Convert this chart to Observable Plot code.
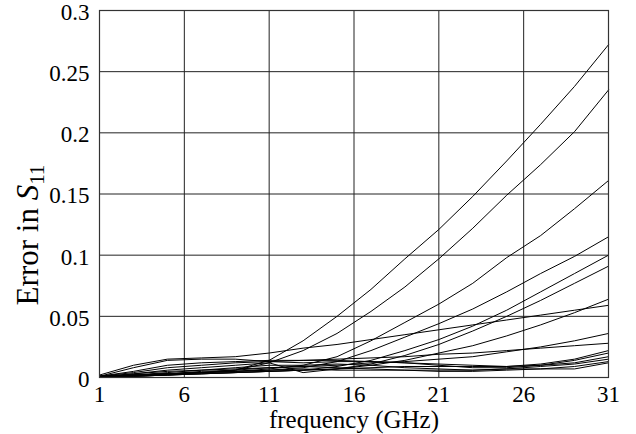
<!DOCTYPE html>
<html>
<head>
<meta charset="utf-8">
<script src="https://cdn.jsdelivr.net/npm/d3@7"></script>
<script src="https://cdn.jsdelivr.net/npm/@observablehq/plot@0.6"></script>
<style>
  html, body { margin: 0; padding: 0; background: #fff; }
  #chart { width: 636px; height: 434px; }
  #chart svg text { font-family: "Liberation Serif", "Times New Roman", serif; }
</style>
</head>
<body>
<div id="chart"></div>
<script>
// Frequencies (GHz) at which each error curve is sampled
const freq = [1, 3, 5, 7, 9, 11, 13, 15, 17, 19, 21, 23, 25, 27, 29, 31];

// Error in S11 for each curve
const curveA = [0.001, 0.002, 0.003, 0.004, 0.006, 0.014, 0.030, 0.050, 0.072, 0.097, 0.121, 0.148, 0.177, 0.207, 0.238, 0.272];
const curveB = [0.001, 0.002, 0.003, 0.004, 0.006, 0.012, 0.022, 0.036, 0.054, 0.074, 0.097, 0.122, 0.149, 0.174, 0.201, 0.235];
const curveC = [0.001, 0.002, 0.003, 0.004, 0.005, 0.007, 0.010, 0.017, 0.030, 0.045, 0.060, 0.077, 0.098, 0.116, 0.138, 0.161];
const curveD = [0.000, 0.002, 0.003, 0.004, 0.005, 0.006, 0.008, 0.013, 0.022, 0.033, 0.044, 0.056, 0.070, 0.085, 0.099, 0.115];
const curveE = [0.000, 0.001, 0.002, 0.003, 0.004, 0.005, 0.006, 0.009, 0.014, 0.022, 0.031, 0.042, 0.055, 0.070, 0.085, 0.100];
const curveF = [0.000, 0.001, 0.002, 0.003, 0.004, 0.005, 0.006, 0.007, 0.011, 0.018, 0.027, 0.038, 0.050, 0.063, 0.077, 0.091];
const curveG = [0.000, 0.001, 0.002, 0.003, 0.004, 0.005, 0.006, 0.007, 0.010, 0.014, 0.020, 0.026, 0.034, 0.043, 0.053, 0.064];
const curveH = [0.002, 0.010, 0.015, 0.016, 0.017, 0.020, 0.024, 0.027, 0.031, 0.035, 0.039, 0.043, 0.047, 0.051, 0.055, 0.059];
const curveI = [0.001, 0.003, 0.005, 0.006, 0.007, 0.008, 0.009, 0.010, 0.012, 0.013, 0.015, 0.017, 0.021, 0.025, 0.030, 0.036];
const curveJ = [0.001, 0.004, 0.008, 0.010, 0.012, 0.013, 0.014, 0.015, 0.016, 0.017, 0.019, 0.020, 0.022, 0.024, 0.026, 0.028];
const curveK = [0.001, 0.008, 0.014, 0.015, 0.015, 0.013, 0.012, 0.013, 0.013, 0.012, 0.011, 0.010, 0.009, 0.011, 0.015, 0.022];
const curveL = [0.001, 0.005, 0.010, 0.012, 0.013, 0.014, 0.014, 0.014, 0.013, 0.012, 0.010, 0.008, 0.008, 0.010, 0.014, 0.020];
const curveM = [0.000, 0.003, 0.006, 0.008, 0.010, 0.012, 0.004, 0.007, 0.008, 0.009, 0.009, 0.009, 0.009, 0.010, 0.012, 0.017];
const curveN = [0.000, 0.002, 0.004, 0.006, 0.008, 0.010, 0.010, 0.011, 0.010, 0.008, 0.007, 0.006, 0.007, 0.009, 0.011, 0.015];
const curveO = [0.000, 0.002, 0.003, 0.005, 0.006, 0.008, 0.009, 0.008, 0.007, 0.006, 0.005, 0.005, 0.006, 0.007, 0.009, 0.013];
const curveP = [0.000, 0.001, 0.002, 0.004, 0.005, 0.006, 0.007, 0.006, 0.006, 0.006, 0.006, 0.006, 0.007, 0.007, 0.007, 0.012];

const seriesNames = ["A","B","C","D","E","F","G","H","I","J","K","L","M","N","O","P"];
const seriesValues = [curveA, curveB, curveC, curveD, curveE, curveF, curveG, curveH,
                      curveI, curveJ, curveK, curveL, curveM, curveN, curveO, curveP];

// Axis ticks and titles
const xTicks = [1, 6, 11, 16, 21, 26, 31];
const yTicks = [0, 0.05, 0.1, 0.15, 0.2, 0.25, 0.3];
const xLabel = "frequency (GHz)";
const yLabelMain = "Error in ";
const yLabelVar = "S";
const yLabelSub = "11";

// Long table for Plot
const rows = [];
seriesNames.forEach((name, i) => {
  freq.forEach((f, j) => rows.push({series: name, f, v: seriesValues[i][j]}));
});

const serif = "'Liberation Serif', 'Times New Roman', serif";

const chart = Plot.plot({
  width: 636,
  height: 434,
  marginLeft: 99,
  marginRight: 28,
  marginTop: 10,
  marginBottom: 57,
  style: {fontFamily: serif, fontSize: "23px", background: "#fff", color: "#000", overflow: "visible"},
  x: {domain: [1, 31], ticks: xTicks},
  y: {domain: [0, 0.3], ticks: yTicks},
  marks: [
    Plot.gridX(xTicks, {stroke: "#222", strokeOpacity: 1, strokeWidth: 1}),
    Plot.gridY(yTicks, {stroke: "#222", strokeOpacity: 1, strokeWidth: 1}),
    Plot.axisX({ticks: xTicks, tickSize: 0, tickPadding: 8, label: null, fontSize: 23}),
    Plot.axisY({ticks: yTicks, tickSize: 0, tickPadding: 10, dy: 2, tickFormat: d => String(d), label: null, fontSize: 23}),
    Plot.lineY(rows, {x: "f", y: "v", z: "series", stroke: "#000", strokeWidth: 1}),
    Plot.frame({stroke: "#333", strokeWidth: 1.2})
  ]
});

document.getElementById("chart").appendChild(chart);

const svg = d3.select(chart);

// X-axis title
svg.append("text")
  .attr("x", 354)
  .attr("y", 428)
  .attr("text-anchor", "middle")
  .attr("font-family", serif)
  .attr("font-size", 25)
  .attr("fill", "#000")
  .text(xLabel);

// Y-axis title with italic S and subscript 11
const t = svg.append("text")
  .attr("transform", "translate(38,235) rotate(-90)")
  .attr("text-anchor", "middle")
  .attr("font-family", serif)
  .attr("font-size", 31)
  .attr("fill", "#000");
t.append("tspan").text(yLabelMain);
t.append("tspan").attr("font-style", "italic").text(yLabelVar);
t.append("tspan").attr("font-size", 21).attr("dy", 6).text(yLabelSub);
</script>
</body>
</html>
